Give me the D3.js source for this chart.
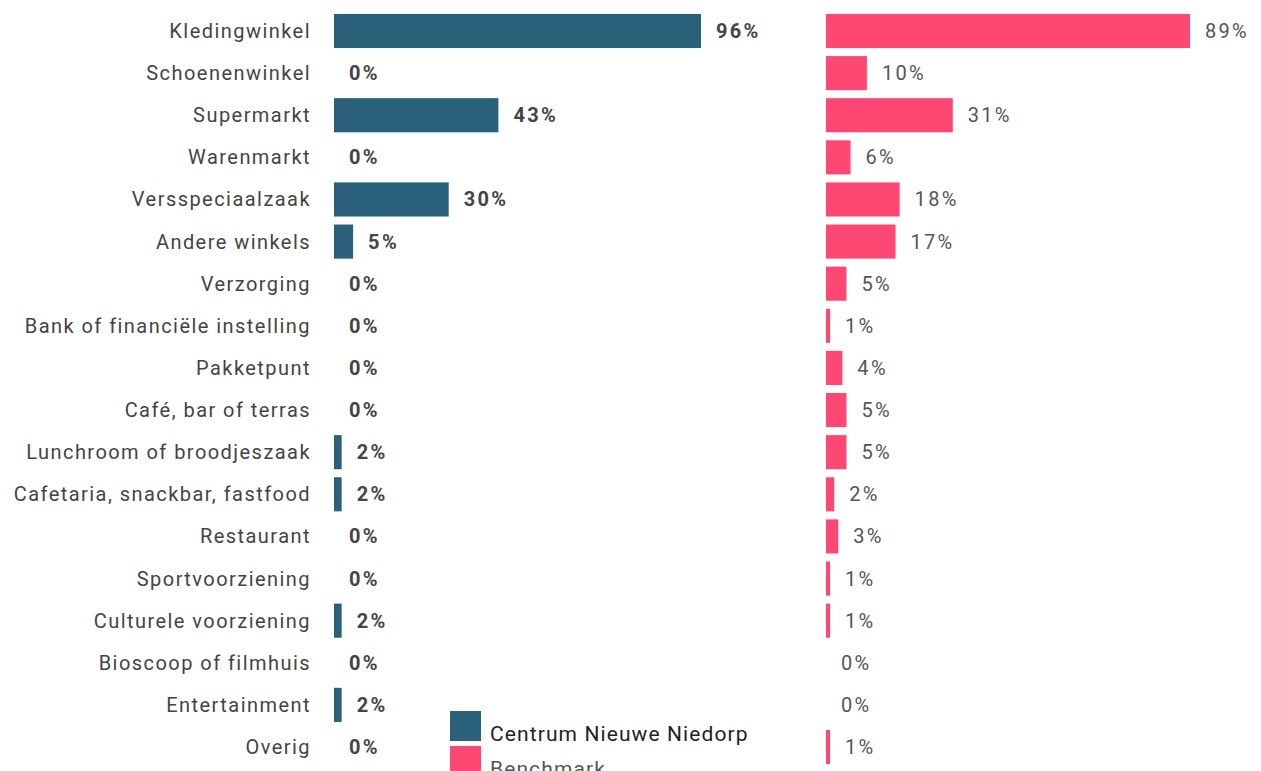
<!DOCTYPE html>
<html>
<head>
<meta charset="utf-8">
<script src="https://cdn.jsdelivr.net/npm/d3@7"></script>
<style>
  body { margin: 0; background: #fff; }
  svg { display: block; font-family: Roboto, "Noto Sans", sans-serif; }
</style>
</head>
<body>
<svg id="canvas"></svg>
<script>
// categories and values (percentages)
let categories = ['Kledingwinkel', 'Schoenenwinkel', 'Supermarkt', 'Warenmarkt', 'Versspeciaalzaak',
  'Andere winkels', 'Verzorging', 'Bank of financiële instelling', 'Pakketpunt', 'Café, bar of terras',
  'Lunchroom of broodjeszaak', 'Cafetaria, snackbar, fastfood', 'Restaurant', 'Sportvoorziening',
  'Culturele voorziening', 'Bioscoop of filmhuis', 'Entertainment', 'Overig']
let centrumValues = [96, 0, 43, 0, 30, 5, 0, 0, 0, 0, 2, 2, 0, 0, 2, 0, 2, 0]
let benchmarkValues = [89, 10, 31, 6, 18, 17, 5, 1, 4, 5, 5, 2, 3, 1, 1, 0, 0, 1]
let seriesNames = ['Centrum Nieuwe Niedorp', 'Benchmark']

let width = 1261
let height = 771
let colors = ['#2a6079', '#ff4773']

let svg = d3.select('#canvas')
            .attr('width', width)
            .attr('height', height)

let y = d3.scaleBand()
          .domain(categories)
          .range([9.94, 768.06])
          .paddingInner(0.19)
          .paddingOuter(0.095)

let xLeft = d3.scaleLinear()
              .domain([0, d3.max(centrumValues)])
              .range([334, 701])

let xRight = d3.scaleLinear()
               .domain([0, d3.max(benchmarkValues)])
               .range([826, 1190])

// category labels
svg.append('g')
   .selectAll('text')
   .data(categories)
   .enter()
   .append('text')
   .attr('x', 311)
   .attr('y', (d) => y(d) + y.bandwidth() / 2)
   .attr('dy', '0.35em')
   .attr('text-anchor', 'end')
   .attr('font-size', 20)
   .attr('letter-spacing', 1.45)
   .attr('fill', '#444')
   .text((d) => d)

let drawPanel = (values, x, color, bold, labelColor) => {
    let g = svg.append('g')
    g.selectAll('rect')
     .data(values.map((v, i) => ({ cat: categories[i], value: v })).filter((d) => d.value > 0))
     .enter()
     .append('rect')
     .attr('x', x(0))
     .attr('y', (d) => y(d.cat))
     .attr('width', (d) => x(d.value) - x(0))
     .attr('height', y.bandwidth())
     .attr('fill', color)

    g.selectAll('text')
     .data(values.map((v, i) => ({ cat: categories[i], value: v })))
     .enter()
     .append('text')
     .attr('x', (d) => x(d.value) + 15)
     .attr('y', (d) => y(d.cat) + y.bandwidth() / 2)
     .attr('dy', '0.35em')
     .attr('font-size', 20)
     .attr('letter-spacing', 2.3)
     .attr('font-weight', bold ? 'bold' : 'normal')
     .attr('fill', labelColor)
     .text((d) => d.value + '%')
}

drawPanel(centrumValues, xLeft, colors[0], true, '#444')
drawPanel(benchmarkValues, xRight, colors[1], false, '#555')

// legend
let legend = svg.append('g')
seriesNames.forEach((name, i) => {
    legend.append('rect')
          .attr('x', 450)
          .attr('y', 711 + 35 * i)
          .attr('width', 31)
          .attr('height', 30)
          .attr('fill', colors[i])
    legend.append('text')
          .attr('x', 490)
          .attr('y', 741 + 35 * i)
          .attr('font-size', 21)
          .attr('letter-spacing', 1.1)
          .attr('fill', i === 0 ? '#222' : '#555')
          .text(name)
})
</script>
</body>
</html>
